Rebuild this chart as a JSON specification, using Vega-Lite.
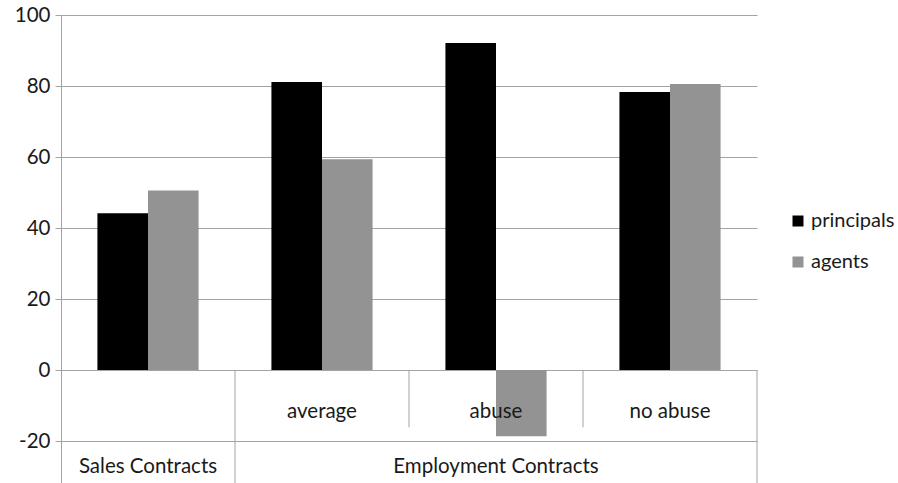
{
  "$schema": "https://vega.github.io/schema/vega-lite/v6.json",
  "width": 696,
  "height": 468,
  "autosize": {"type": "none"},
  "padding": {"left": 61, "top": 15, "right": 141, "bottom": 0},
  "background": "white",
  "config": {
    "view": {"stroke": null},
    "font": "Lato",
    "text": {"font": "Lato", "fontSize": 20.5, "color": "#1a1a1a"}
  },
  "datasets": {
    "bars": [
      {"cat": "Sales Contracts", "series": "principals", "value": 44.2},
      {"cat": "Sales Contracts", "series": "agents", "value": 50.6},
      {"cat": "average", "series": "principals", "value": 81.1},
      {"cat": "average", "series": "agents", "value": 59.4},
      {"cat": "abuse", "series": "principals", "value": 92.1},
      {"cat": "abuse", "series": "agents", "value": -18.6},
      {"cat": "no abuse", "series": "principals", "value": 78.3},
      {"cat": "no abuse", "series": "agents", "value": 80.6}
    ],
    "sublabels": [
      {"cat": "average"},
      {"cat": "abuse"},
      {"cat": "no abuse"}
    ],
    "mainlabels": [
      {"cat": "Sales Contracts", "label": "Sales Contracts"},
      {"cat": "abuse", "label": "Employment Contracts"}
    ],
    "shortseps": [
      {"cat": "abuse"},
      {"cat": "no abuse"}
    ],
    "longseps": [
      {"cat": "average"}
    ],
    "endsep": [
      {"cat": "no abuse"}
    ]
  },
  "resolve": {"scale": {"x": "shared", "y": "shared"}},
  "layer": [
    {
      "data": {"name": "bars"},
      "mark": {"type": "bar", "strokeWidth": 0},
      "encoding": {
        "x": {
          "field": "cat", "type": "nominal",
          "scale": {"domain": ["Sales Contracts", "average", "abuse", "no abuse"], "paddingInner": 0, "paddingOuter": 0},
          "axis": null
        },
        "xOffset": {
          "field": "series", "type": "nominal",
          "scale": {"domain": ["principals", "agents"], "paddingInner": 0, "paddingOuter": 0.72}
        },
        "y": {
          "field": "value", "type": "quantitative",
          "scale": {"domain": [-31.8, 100], "nice": false, "zero": false},
          "axis": {
            "title": null,
            "values": [-20, 0, 20, 40, 60, 80, 100],
            "labelExpr": "datum.value < 0 ? '-' + abs(datum.value) : datum.label",
            "grid": true,
            "gridColor": "#a3a3a3",
            "gridWidth": 1,
            "domainColor": "#a3a3a3",
            "tickColor": "#a3a3a3",
            "tickSize": 6,
            "labelFont": "Lato",
            "labelFontSize": 20.5,
            "labelColor": "#1a1a1a",
            "labelPadding": 5
          }
        },
        "color": {
          "field": "series", "type": "nominal",
          "scale": {"domain": ["principals", "agents"], "range": ["#000000", "#939393"]},
          "legend": {
            "title": null,
            "orient": "none",
            "legendX": 727,
            "legendY": 196,
            "symbolType": "square",
            "symbolSize": 121,
            "symbolStrokeWidth": 0,
            "labelFont": "Lato",
            "labelFontSize": 20,
            "labelColor": "#1a1a1a",
            "labelOffset": 3,
            "rowPadding": 21,
            "padding": 0
          }
        }
      }
    },
    {
      "data": {"name": "shortseps"},
      "mark": {"type": "rule", "color": "#a3a3a3", "strokeWidth": 1},
      "encoding": {
        "x": {"field": "cat", "type": "nominal", "bandPosition": 0},
        "y": {"datum": 0},
        "y2": {"datum": -16.1}
      }
    },
    {
      "data": {"name": "longseps"},
      "mark": {"type": "rule", "color": "#a3a3a3", "strokeWidth": 1},
      "encoding": {
        "x": {"field": "cat", "type": "nominal", "bandPosition": 0},
        "y": {"datum": 0},
        "y2": {"datum": -31.8}
      }
    },
    {
      "data": {"name": "endsep"},
      "mark": {"type": "rule", "color": "#a3a3a3", "strokeWidth": 1},
      "encoding": {
        "x": {"field": "cat", "type": "nominal", "bandPosition": 1},
        "y": {"datum": 0},
        "y2": {"datum": -31.8}
      }
    },
    {
      "data": {"name": "sublabels"},
      "mark": {"type": "text", "baseline": "middle", "align": "center"},
      "encoding": {
        "x": {"field": "cat", "type": "nominal", "bandPosition": 0.5},
        "y": {"datum": -11.8},
        "text": {"field": "cat"}
      }
    },
    {
      "data": {"name": "mainlabels"},
      "mark": {"type": "text", "baseline": "middle", "align": "center"},
      "encoding": {
        "x": {"field": "cat", "type": "nominal", "bandPosition": 0.5},
        "y": {"datum": -27.4},
        "text": {"field": "label"}
      }
    }
  ]
}
